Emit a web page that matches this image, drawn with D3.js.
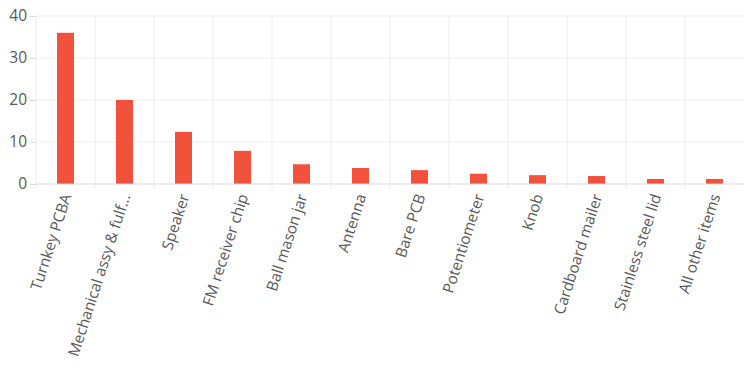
<!DOCTYPE html>
<html>
<head>
<meta charset="utf-8">
<script src="https://cdn.jsdelivr.net/npm/d3@7"></script>
<style>
	body { margin: 0; background: #fff; }
	svg text { font-family: "Open Sans", sans-serif; fill: #595959; }
</style>
</head>
<body>
<svg id="chart" width="750" height="375"></svg>
<script>
// part costs, sorted
const categories = ['Turnkey PCBA', 'Mechanical assy & fulf...', 'Speaker', 'FM receiver chip',
	'Ball mason jar', 'Antenna', 'Bare PCB', 'Potentiometer', 'Knob', 'Cardboard mailer',
	'Stainless steel lid', 'All other items']
const values = [36, 20, 12.4, 7.9, 4.7, 3.8, 3.3, 2.45, 2.1, 1.9, 1.2, 1.2]
const yTicks = [0, 10, 20, 30, 40]

const padding = { top: 16, left: 36, right: 6 }
const width = 750, plotH = 168

let svg = d3.select('#chart')
let scaleX = d3.scaleBand()
	.domain(categories)
	.range([padding.left, width - padding.right])
let scaleY = d3.scaleLinear()
	.domain([0, 40])
	.range([padding.top + plotH, padding.top])

// grid
let grid = svg.append('g')
grid.selectAll('line.h')
	.data(yTicks.slice(1))
	.join('line')
	.attr('x1', padding.left).attr('x2', width - padding.right)
	.attr('y1', d => scaleY(d)).attr('y2', d => scaleY(d))
	.attr('stroke', '#ececec')
grid.selectAll('line.v')
	.data(categories)
	.join('line')
	.attr('x1', d => scaleX(d)).attr('x2', d => scaleX(d))
	.attr('y1', padding.top).attr('y2', scaleY(0) + 5)
	.attr('stroke', '#ececec')

// y axis
let yAxis = svg.append('g')
	.attr('transform', `translate(${padding.left},0)`)
	.call(d3.axisLeft(scaleY).tickValues(yTicks).tickSize(6).tickPadding(3))
yAxis.select('.domain').remove()
yAxis.selectAll('line').attr('stroke', '#d9d9d9')
yAxis.selectAll('text').attr('font-size', 15.5).style('fill', '#595959')

// bars
svg.append('g').selectAll('rect')
	.data(values)
	.join('rect')
	.attr('x', (d, i) => scaleX(categories[i]) + scaleX.bandwidth() / 2 - 8.5)
	.attr('width', 17)
	.attr('y', d => scaleY(d))
	.attr('height', d => scaleY(0) - scaleY(d))
	.attr('fill', '#f2513b')

// baseline
svg.append('line')
	.attr('x1', padding.left).attr('x2', width - padding.right)
	.attr('y1', scaleY(0)).attr('y2', scaleY(0))
	.attr('stroke', '#d9d9d9')

// x labels
svg.append('g').selectAll('text')
	.data(categories)
	.join('text')
	.attr('transform', d => `translate(${scaleX(d) + scaleX.bandwidth() / 2 + 6},${scaleY(0) + 12}) rotate(-72)`)
	.attr('text-anchor', 'end')
	.attr('font-size', 15.3)
	.text(d => d)
</script>
</body>
</html>
